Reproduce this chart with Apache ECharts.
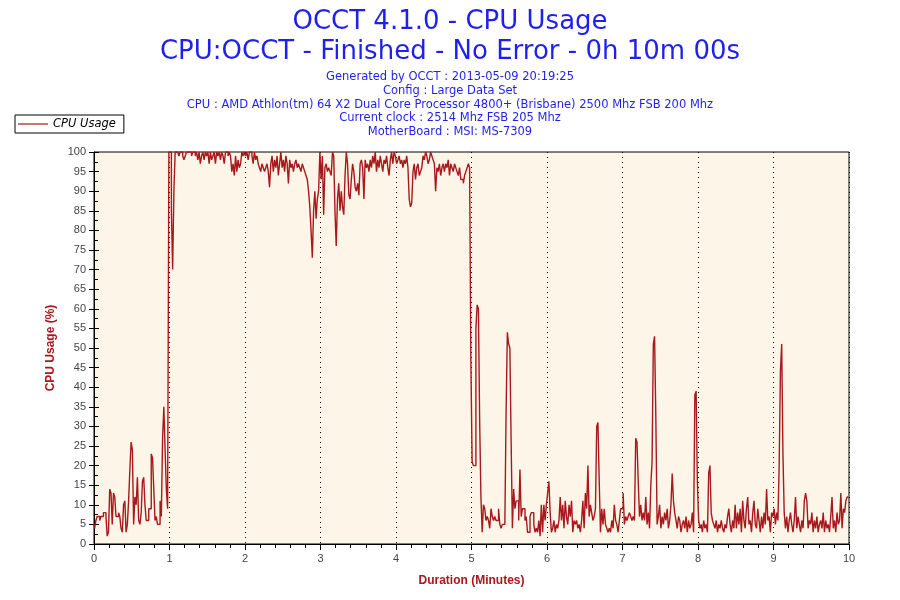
<!DOCTYPE html>
<html>
<head>
<meta charset="utf-8">
<script src="https://cdn.jsdelivr.net/npm/echarts@6/dist/echarts.min.js"></script>
<style>html,body{margin:0;padding:0;background:#fff}#c{width:900px;height:600px}</style>
</head>
<body>
<div id="c"></div>
<script>
// CPU usage (%) sampled once per second, one array per minute
const min0 = [5,4,6,7,7,6,7,7,8,8, 7,2,3,14,13,5,13,12,7,7, 8,7,4,3,10,11,3,5,11,19, 26,24,5,12,10,17,6,5,8,16, 17,10,6,6,9,9,23,22,14,6, 7,5,5,11,7,27,35,24,14,9];
const min1 = [100,100,85,70,90,100,100,100,99,100, 100,99,98,99,100,100,100,100,99,100, 100,99,100,98,100,97,99,100,98,100, 99,100,97,100,98,99,100,97,100,99, 100,98,100,99,97,100,100,99,100,99, 95,97,94,99,95,98,96,97,100,99];
const min2 = [100,99,100,98,100,100,99,97,100,98, 99,97,96,95,97,96,95,96,97,95, 91,97,99,95,98,96,99,94,97,100, 96,98,95,99,97,92,98,96,97,95, 97,98,96,97,96,95,97,96,95,94, 93,90,86,80,73,85,90,83,88,90];
const min3 = [100,93,99,84,96,97,95,96,95,94, 100,99,85,76,88,92,85,90,86,84, 94,100,97,89,88,93,97,95,91,90, 92,89,97,98,96,88,98,96,97,95, 98,96,99,97,100,95,98,96,99,97, 95,98,97,99,96,94,98,100,97,100];
const min4 = [99,97,98,99,97,98,96,98,97,99, 96,88,86,87,95,97,93,96,97,94, 95,96,99,98,100,99,97,98,100,99, 98,97,90,96,95,97,94,96,97,95, 97,96,98,94,97,96,95,97,96,95, 94,96,93,93,92,94,95,96,97,96];
const min5 = [47,21,20,20,55,61,60,31,12,3, 10,9,6,7,6,4,9,7,6,7, 6,6,9,5,4,5,5,5,34,54, 51,50,26,4,14,9,11,11,6,19, 7,9,9,6,7,3,3,7,8,8, 5,3,4,3,6,2,10,3,10,6];
const min6 = [10,13,16,8,3,4,6,3,5,4, 6,12,6,10,4,11,7,5,10,7, 11,3,6,5,6,4,5,3,6,11, 4,13,9,20,7,10,8,6,7,9, 30,31,16,3,9,5,9,5,4,3, 4,3,6,4,10,6,5,3,6,9];
const min7 = [9,13,5,7,6,7,8,7,6,7, 6,27,26,16,7,10,6,8,6,12, 5,8,4,15,21,51,53,32,5,7, 10,4,7,5,8,6,9,4,6,10, 18,11,8,6,4,7,6,3,5,6, 4,7,3,6,4,5,8,3,38,39];
const min8 = [16,6,4,5,3,6,4,5,3,18, 20,8,6,5,4,6,3,5,4,6, 4,3,5,4,7,9,5,3,6,4, 10,4,8,5,9,3,11,6,4,9, 12,5,6,3,8,11,5,4,9,6, 3,7,4,8,5,14,6,7,3,8];
const min9 = [7,9,5,8,6,20,44,51,23,8, 4,7,3,6,8,5,3,6,12,4, 7,5,3,6,4,11,13,11,4,6, 5,8,3,6,4,7,3,5,6,4, 8,3,6,4,5,3,7,12,4,6, 3,8,5,6,13,4,9,8,11,12];
const lastSample = [12];

const titleLines = ['OCCT 4.1.0 - CPU Usage', 'CPU:OCCT - Finished - No Error - 0h 10m 00s'];
const infoLines = [
  'Generated by OCCT : 2013-05-09 20:19:25',
  'Config : Large Data Set',
  'CPU : AMD Athlon(tm) 64 X2 Dual Core Processor 4800+ (Brisbane) 2500 Mhz FSB 200 Mhz',
  'Current clock : 2514 Mhz FSB 205 Mhz',
  'MotherBoard : MSI: MS-7309'
];
const seriesName = 'CPU Usage';
const xName = 'Duration (Minutes)';
const yName = 'CPU Usage (%)';

const samples = [].concat(min0, min1, min2, min3, min4, min5, min6, min7, min8, min9, lastSample);
const data = samples.map((v, i) => [i / 60, v]);

const blue = '#1f1fef';
const red = '#a8181c';
const graphics = [];
graphics.push({type:'text', left:'center', top:9, style:{text:titleLines[0], fill:blue, font:'26px "DejaVu Sans"'}});
graphics.push({type:'text', left:'center', top:39, style:{text:titleLines[1], fill:blue, font:'26px "DejaVu Sans"'}});
infoLines.forEach((t, i) => {
  graphics.push({type:'text', left:'center', top:71 + i * 13.8, style:{text:t, fill:blue, font:'11.5px "DejaVu Sans"'}});
});

const chart = echarts.init(document.getElementById('c'));
chart.setOption({
  animation: false,
  backgroundColor: '#ffffff',
  graphic: graphics,
  legend: {
    left: 15, top: 115,
    orient: 'horizontal',
    data: [{name: seriesName, icon: 'rect'}],
    borderColor: '#000', borderWidth: 1,
    backgroundColor: '#fff',
    padding: [3, 8, 3, 3],
    itemWidth: 30, itemHeight: 1.2, itemGap: 5,
    textStyle: {fontStyle: 'italic', fontSize: 11.5, color: '#000', fontFamily: '"DejaVu Sans"'}
  },
  grid: {
    left: 94, right: 51, top: 152, bottom: 56,
    show: true, backgroundColor: '#fdf6e8', borderColor: '#000', borderWidth: 1
  },
  xAxis: {
    type: 'value', min: 0, max: 10, interval: 1,
    name: xName, nameLocation: 'middle', nameGap: 31,
    nameTextStyle: {color: red, fontWeight: 'bold', fontSize: 12, fontFamily: '"Liberation Sans"'},
    axisLine: {show: true, onZero: false, lineStyle: {color: '#000', width: 1}},
    axisTick: {show: true, length: 6, lineStyle: {color: '#000'}},
    minorTick: {show: true, splitNumber: 5, length: 4, lineStyle: {color: '#000'}},
    axisLabel: {color: '#444', fontSize: 11, fontFamily: '"Liberation Sans"', margin: 9},
    splitLine: {show: true, lineStyle: {color: '#000', type: [1, 4], width: 1}},
    minorSplitLine: {show: false}
  },
  yAxis: [{
    type: 'value', min: 0, max: 100, interval: 5,
    name: yName, nameLocation: 'middle', nameGap: 36, nameRotate: 90,
    nameTextStyle: {color: red, fontWeight: 'bold', fontSize: 12, fontFamily: '"Liberation Sans"'},
    axisLine: {show: true, lineStyle: {color: '#000', width: 1}},
    axisTick: {show: true, length: 5, lineStyle: {color: '#000'}},
    axisLabel: {color: '#444', fontSize: 11, fontFamily: '"Liberation Sans"', margin: 8},
    splitLine: {show: false}
  }, {
    type: 'value', min: 0, max: 100, interval: 5, position: 'left',
    axisLine: {show: false},
    axisTick: {show: true, inside: true, length: 5, lineStyle: {color: '#000'}},
    minorTick: {show: true, splitNumber: 2, length: 4, lineStyle: {color: '#000'}},
    axisLabel: {show: false},
    splitLine: {show: false}
  }],
  series: [{
    name: seriesName,
    type: 'line',
    data: data,
    showSymbol: false,
    symbol: 'none',
    step: 'middle',
    lineStyle: {color: red, width: 1.4},
    itemStyle: {color: red}
  }]
});
</script>
</body>
</html>
